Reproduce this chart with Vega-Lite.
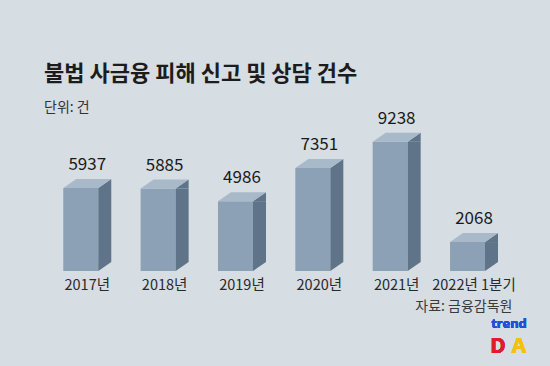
{
  "$schema": "https://vega.github.io/schema/vega-lite/v6.json",
  "width": 550,
  "height": 140,
  "autosize": "none",
  "padding": {"left": 0, "top": 131, "right": 0, "bottom": 95},
  "background": "#d6dde3",
  "config": {"view": {"stroke": null}, "font": "Noto Sans CJK KR"},
  "title": {
    "text": "불법 사금융 피해 신고 및 상담 건수",
    "subtitle": "단위: 건",
    "anchor": "start",
    "frame": "group",
    "dx": 44,
    "dy": 22,
    "offset": 16,
    "font": "Noto Sans CJK KR",
    "fontSize": 22,
    "fontWeight": "bold",
    "color": "#1c1c1c",
    "subtitleFont": "Noto Sans CJK KR",
    "subtitleFontSize": 14,
    "subtitleColor": "#333333",
    "subtitlePadding": 15
  },
  "datasets": {
    "counts": [
      {"year": "2017년", "count": 5937},
      {"year": "2018년", "count": 5885},
      {"year": "2019년", "count": 4986},
      {"year": "2020년", "count": 7351},
      {"year": "2021년", "count": 9238},
      {"year": "2022년 1분기", "count": 2068}
    ]
  },
  "data": {"name": "counts"},
  "encoding": {
    "x": {
      "field": "year",
      "type": "nominal",
      "sort": null,
      "scale": {"range": [42.1, 506.2], "paddingInner": 0, "paddingOuter": 0},
      "axis": {
        "title": "자료: 금융감독원",
        "domain": false,
        "ticks": false,
        "grid": false,
        "labelAngle": 0,
        "labelFont": "Noto Sans CJK KR",
        "labelFontSize": 14.5,
        "labelColor": "#2a2a2a",
        "labelPadding": 7,
        "labelOffset": 6.5,
        "titleFont": "Noto Sans CJK KR",
        "titleFontSize": 14,
        "titleFontWeight": "normal",
        "titleColor": "#3a3a3a",
        "titleX": 512,
        "titleY": 35.5,
        "titleAlign": "right",
        "titleBaseline": "middle",
        "titleAnchor": "end"
      }
    },
    "y": {
      "field": "count",
      "type": "quantitative",
      "scale": {"domain": [0, 10000]},
      "axis": null
    }
  },
  "layer": [
    {
      "mark": {"type": "bar", "width": 35, "color": "#8ca1b5"}
    },
    {
      "mark": {"type": "bar", "width": 13, "xOffset": 24, "y2Offset": -9, "color": "#5f7489"},
      "encoding": {"y2": {"datum": 0}}
    },
    {
      "mark": {"type": "point", "shape": "M 17.5 0 L 30.5 -9 L 30.5 0 Z", "size": 4, "filled": true, "opacity": 1, "color": "#5f7489", "strokeWidth": 0}
    },
    {
      "mark": {"type": "point", "shape": "M 17.5 -9 L 30.5 -9 L 17.5 0 Z", "size": 4, "filled": true, "opacity": 1, "color": "#5f7489", "strokeWidth": 0},
      "encoding": {"y": {"datum": 0}}
    },
    {
      "mark": {"type": "point", "shape": "M -17.5 0 L 17.5 0 L 30.5 -9 L -4.5 -9 Z", "size": 4, "filled": true, "opacity": 1, "color": "#a8b9ca", "strokeWidth": 0}
    },
    {
      "mark": {"type": "text", "xOffset": 6.5, "dy": -18, "baseline": "alphabetic", "font": "Noto Sans CJK KR", "fontSize": 17, "color": "#1a1a1a"},
      "encoding": {"text": {"field": "count", "type": "quantitative", "format": "d"}}
    },
    {
      "mark": {"type": "text", "xOffset": 41.5, "baseline": "middle", "font": "Noto Sans", "fontSize": 13, "fontWeight": "bold", "color": "#2350d8", "text": "trend"},
      "encoding": {"x": {"datum": "2022년 1분기"}, "y": {"datum": -3800}}
    },
    {
      "mark": {"type": "text", "xOffset": 30.5, "baseline": "middle", "font": "Noto Sans", "fontSize": 21, "fontWeight": "bold", "color": "#e01b2e", "text": "D"},
      "encoding": {"x": {"datum": "2022년 1분기"}, "y": {"datum": -5420}}
    },
    {
      "mark": {"type": "text", "xOffset": 51.5, "baseline": "middle", "font": "Noto Sans", "fontSize": 21, "fontWeight": "bold", "color": "#f4c20d", "text": "A"},
      "encoding": {"x": {"datum": "2022년 1분기"}, "y": {"datum": -5420}}
    }
  ]
}
